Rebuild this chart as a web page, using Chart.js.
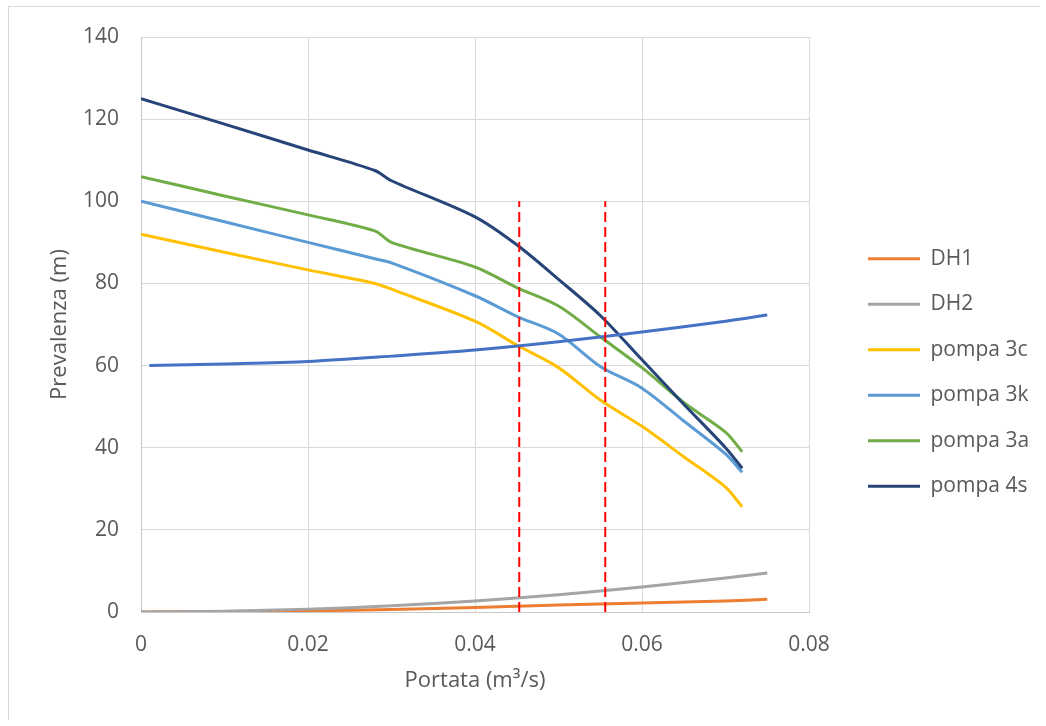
<!DOCTYPE html>
<html>
<head>
<meta charset="utf-8">
<script src="https://cdn.jsdelivr.net/npm/chart.js@4"></script>
<style>
  html, body { margin: 0; padding: 0; background: #fff; overflow: hidden; }
  .frame {
    position: absolute;
    left: 8px;
    top: 6px;
    width: 1031px;
    height: 713px;
    border-left: 1px solid #d9d9d9;
    border-top: 1px solid #d9d9d9;
  }
  canvas { display: block; }
</style>
</head>
<body>
<div class="frame"><canvas id="chart" width="1031" height="713"></canvas></div>
<script>
// portata (m3/s) per le curve delle pompe
const pumpQ = [0, 0.01, 0.02, 0.028, 0.03, 0.04, 0.045, 0.05, 0.055, 0.06, 0.065, 0.07, 0.072]
const pompa3c = [92, 87.6, 83.3, 80, 78.6, 70.8, 65, 59.5, 51.6, 45.2, 37.8, 30.4, 25.6]
const pompa3k = [100, 95, 90, 86, 85, 77, 72, 67.7, 59.8, 54.5, 46.5, 38.5, 34]
const pompa3a = [106, 101.3, 96.7, 92.8, 90, 84, 79, 74.5, 67, 59.5, 51, 43.8, 39]
const pompa4s = [125, 118.8, 112.5, 107.5, 105, 96.2, 89.4, 81, 72.2, 61.4, 50.6, 40, 35]

// curve dell'impianto
const systemQ = [0, 0.01, 0.02, 0.03, 0.04, 0.05, 0.06, 0.07, 0.075]
const dh1 = [0, 0.1, 0.3, 0.6, 1.1, 1.7, 2.2, 2.7, 3.1]
const dh2 = [0, 0.2, 0.7, 1.5, 2.7, 4.2, 6.1, 8.3, 9.5]
const impiantoQ = [0.001, 0.01, 0.02, 0.03, 0.04, 0.05, 0.06, 0.07, 0.075]
const impianto = [60, 60.4, 61, 62.3, 63.8, 65.8, 68.2, 70.8, 72.3]

// punti di funzionamento (linee tratteggiate)
const markerQ = [0.0453, 0.0556]
const markerH = [0, 100]

const xTicks = [0, 0.02, 0.04, 0.06, 0.08]

const toPoints = (xs, ys) => xs.map((x, i) => ({ x, y: ys[i] }))

const curve = (label, xs, ys, color) => ({
  label,
  data: toPoints(xs, ys),
  borderColor: color,
  backgroundColor: color,
  borderWidth: 3,
  pointRadius: 0,
  tension: 0.3,
  fill: false,
})

const markers = markerQ.map((q) => ({
  label: 'marker',
  data: markerH.map((h) => ({ x: q, y: h })),
  borderColor: '#ff0000',
  borderWidth: 2,
  borderDash: [10, 5],
  pointRadius: 0,
  tension: 0,
  fill: false,
}))

// Excel draws later series on top; Chart.js draws index 0 last, so the list is reversed
const datasets = [
  ...markers,
  curve('impianto', impiantoQ, impianto, '#4472c4'),
  curve('pompa 4s', pumpQ, pompa4s, '#264478'),
  curve('pompa 3a', pumpQ, pompa3a, '#70ad47'),
  curve('pompa 3k', pumpQ, pompa3k, '#5b9bd5'),
  curve('pompa 3c', pumpQ, pompa3c, '#ffc000'),
  curve('DH2', systemQ, dh2, '#a5a5a5'),
  curve('DH1', systemQ, dh1, '#ed7d31'),
]

const legendNames = new Set(['DH1', 'DH2', 'pompa 3c', 'pompa 3k', 'pompa 3a', 'pompa 4s'])

const legendLayout = {
  id: 'legendLayout',
  beforeInit(chart) {
    const fit = chart.legend.fit
    chart.legend.fit = function () {
      fit.call(this)
      this.width = 231
    }
  },
  afterLayout(chart) {
    chart.legend.left += 34.5
    chart.legend.top -= 12
  },
}

const tickFont = { family: '"Open Sans", "Noto Sans", sans-serif', size: 21 }
const titleFont = { family: '"Open Sans", "Noto Sans", sans-serif', size: 22 }
const textColor = '#595959'

new Chart(document.getElementById('chart'), {
  type: 'line',
  data: { datasets },
  plugins: [legendLayout],
  options: {
    responsive: false,
    animation: false,
    layout: { padding: { top: 30, left: 0, right: 0, bottom: 0 } },
    scales: {
      x: {
        type: 'linear',
        min: 0,
        max: 0.08,
        afterBuildTicks(scale) {
          scale.ticks = xTicks.map((value) => ({ value }))
        },
        afterFit(scale) {
          scale.height = 108
        },
        ticks: {
          color: textColor,
          font: tickFont,
          padding: 20,
          maxRotation: 0,
          callback: (v) => (v === 0 ? '0' : Number(v).toFixed(2)),
        },
        grid: { color: '#d9d9d9', lineWidth: 1, drawTicks: false },
        border: { color: '#c8c8c8' },
        title: {
          display: true,
          text: 'Portata (m³/s)',
          color: textColor,
          font: titleFont,
          padding: { top: 0, bottom: 26 },
        },
      },
      y: {
        min: 0,
        max: 140,
        afterFit(scale) {
          scale.width = 132
          scale.paddingTop = 12
          scale.paddingBottom = 12
        },
        ticks: {
          stepSize: 20,
          color: textColor,
          font: tickFont,
          padding: 22,
        },
        grid: { color: '#d9d9d9', lineWidth: 1, drawTicks: false },
        border: { color: '#c8c8c8' },
        title: {
          display: true,
          text: 'Prevalenza (m)',
          color: textColor,
          font: titleFont,
          padding: { top: 38, bottom: 0 },
        },
      },
    },
    plugins: {
      legend: {
        position: 'right',
        reverse: true,
        labels: {
          color: textColor,
          font: tickFont,
          boxWidth: 52,
          boxHeight: 3,
          padding: 24.5,
          filter: (item) => legendNames.has(item.text),
          generateLabels(chart) {
            const items = Chart.defaults.plugins.legend.labels.generateLabels(chart)
            return items.map((item) => ({ ...item, lineWidth: 0, lineDash: [] }))
          },
        },
      },
      tooltip: { enabled: false },
    },
  },
})
</script>
</body>
</html>
